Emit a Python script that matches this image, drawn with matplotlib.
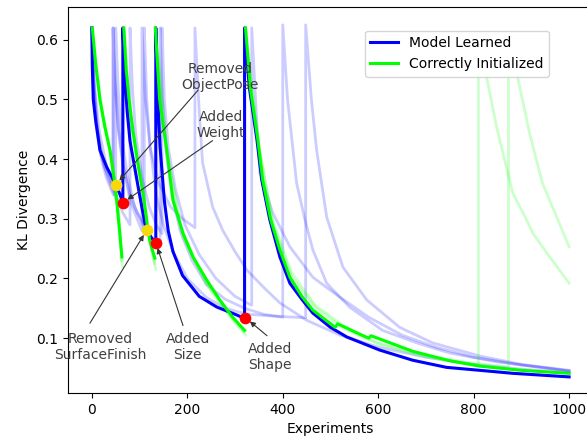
import numpy as np
import matplotlib
matplotlib.use('Agg')
import matplotlib.pyplot as plt

nan = np.nan

# bold mean curves (x, kl)
blue_x = [0, 1, 3, 8, 17, 31, 42, 50, 57, 65,
          65, 69, 74, 80, 90, 100, 111, 115, 125, 134,
          134, 138, 143, 152, 160, 170, 190, 225, 262, 300, 320,
          320, 330, 346, 356, 373, 394, 415, 440, 463, 500, 534, 603, 672, 743, 813, 882, 1000]
blue_y = [0.62, 0.555, 0.50, 0.465, 0.415, 0.387, 0.37, 0.357, 0.345, 0.327,
          0.62, 0.54, 0.48, 0.43, 0.385, 0.34, 0.293, 0.281, 0.268, 0.26,
          0.62, 0.50, 0.42, 0.33, 0.28, 0.245, 0.205, 0.17, 0.152, 0.14, 0.133,
          0.62, 0.52, 0.432, 0.365, 0.298, 0.236, 0.192, 0.165, 0.142, 0.118, 0.102, 0.080, 0.063, 0.051, 0.046, 0.041, 0.035]

green_x = [1, 8, 17, 27, 38, 46, 52, 58, 63, nan,
           67, 72, 78, 86, 95, 108, 116, 121, 126, 132, nan,
           133, 142, 157, 170, 191, 212, 241, 268, 295, 320, nan,
           322, 332, 348, 358, 375, 394, 415, 440, 463, 510, 515, 560, 580, 585, 672, 750, 813, 900, 1000]
green_y = [0.62, 0.56, 0.50, 0.455, 0.415, 0.37, 0.33, 0.28, 0.236, nan,
           0.62, 0.55, 0.50, 0.449, 0.40, 0.34, 0.29, 0.265, 0.25, 0.234, nan,
           0.62, 0.50, 0.415, 0.331, 0.276, 0.236, 0.197, 0.164, 0.135, 0.113, nan,
           0.62, 0.52, 0.432, 0.365, 0.298, 0.248, 0.202, 0.17, 0.147, 0.118, 0.124, 0.107, 0.100, 0.104, 0.078, 0.062, 0.053, 0.046, 0.041]

# individual runs, model learned
runs_blue = [
    ([0, 4, 10, 20, 30, 45, 45, 49, 56, 66, 80, 95, 105, 105, 112, 122, 140, 165, 190, 216,
      216, 225, 232, 253, 274, 300, 325, 360, 394, 450, 520, 600, 700, 800, 900, 1000],
     [0.62, 0.53, 0.46, 0.40, 0.37, 0.34, 0.62, 0.53, 0.45, 0.39, 0.33, 0.30, 0.28, 0.62, 0.50, 0.42, 0.36, 0.32, 0.30, 0.285,
      0.62, 0.48, 0.394, 0.32, 0.281, 0.245, 0.214, 0.185, 0.159, 0.13, 0.105, 0.085, 0.068, 0.056, 0.048, 0.042]),
    ([0, 5, 12, 25, 38, 50, 50, 55, 62, 75, 90, 110, 125, 143, 143, 148, 156, 168, 185, 210, 240, 280, 320, 360, 400,
      400, 410, 429, 446, 463, 492, 540, 609, 681, 750, 850, 1000],
     [0.62, 0.52, 0.45, 0.39, 0.36, 0.335, 0.62, 0.52, 0.44, 0.37, 0.32, 0.285, 0.27, 0.255, 0.62, 0.50, 0.41, 0.34, 0.28, 0.23, 0.19, 0.165, 0.15, 0.14, 0.135,
      0.625, 0.50, 0.36, 0.30, 0.248, 0.192, 0.152, 0.113, 0.092, 0.075, 0.06, 0.045]),
    ([0, 6, 15, 30, 50, 65, 80, 80, 85, 92, 105, 120, 135, 147, 147, 152, 160, 175, 195, 225, 260, 300, 335,
      335, 343, 352, 379, 415, 463, 519, 580, 650, 720, 800, 900, 1000],
     [0.62, 0.52, 0.45, 0.39, 0.34, 0.31, 0.29, 0.62, 0.52, 0.44, 0.37, 0.32, 0.29, 0.275, 0.62, 0.50, 0.42, 0.35, 0.29, 0.24, 0.20, 0.17, 0.155,
      0.62, 0.50, 0.377, 0.31, 0.253, 0.202, 0.169, 0.135, 0.105, 0.085, 0.068, 0.055, 0.045]),
    ([0, 3, 8, 18, 30, 44, 44, 48, 55, 65, 80, 95, 110, 110, 115, 122, 135, 150, 170, 200, 240, 280, 325, 380, 448,
      448, 460, 471, 492, 526, 576, 645, 714, 813, 900, 1000],
     [0.62, 0.53, 0.46, 0.41, 0.38, 0.355, 0.62, 0.53, 0.45, 0.39, 0.34, 0.31, 0.29, 0.62, 0.50, 0.42, 0.34, 0.29, 0.245, 0.20, 0.168, 0.15, 0.14, 0.137, 0.134,
      0.625, 0.50, 0.415, 0.303, 0.219, 0.164, 0.118, 0.092, 0.070, 0.056, 0.046]),
]

# individual runs, correctly initialized
runs_green = [
    ([2, 10, 20, 32, 44, 54, 60, 64, nan, 68, 80, 95, 110, 122, 134, nan, 135, 158, 190, 240, 290, 322, nan,
      323, 350, 380, 420, 470, 530, 600, 700, 810, 810, nan, 827, 848, 882, 911, 924, 953, 1000],
     [0.61, 0.55, 0.49, 0.44, 0.39, 0.33, 0.27, 0.22, nan, 0.61, 0.47, 0.40, 0.33, 0.26, 0.215, nan, 0.61, 0.41, 0.27, 0.19, 0.135, 0.105, nan,
      0.61, 0.42, 0.29, 0.20, 0.15, 0.115, 0.09, 0.068, 0.055, 0.538, nan, 0.538, 0.454, 0.343, 0.298, 0.276, 0.243, 0.192]),
    ([1, 9, 19, 30, 42, 52, 58, 62, nan, 67, 78, 92, 108, 120, 132, nan, 134, 155, 188, 238, 288, 320, nan,
      322, 348, 378, 418, 468, 528, 600, 700, 800, 873, 873, nan, 892, 917, 944, 974, 1000],
     [0.61, 0.55, 0.49, 0.44, 0.40, 0.34, 0.29, 0.23, nan, 0.61, 0.48, 0.41, 0.34, 0.27, 0.225, nan, 0.61, 0.42, 0.28, 0.195, 0.14, 0.11, nan,
      0.61, 0.43, 0.30, 0.21, 0.155, 0.12, 0.092, 0.07, 0.058, 0.052, 0.538, nan, 0.538, 0.444, 0.36, 0.303, 0.253]),
]

added_x = [65, 134, 320]
added_y = [0.327, 0.26, 0.134]
removed_x = [50, 115]
removed_y = [0.357, 0.281]

fig = plt.figure(figsize=(5.87, 4.40), dpi=100)
ax = fig.add_axes([0.1158, 0.1068, 0.8944, 0.8773])

for rx, ry in runs_blue:
    ax.plot(rx, ry, color='blue', alpha=0.2, lw=2)
for rx, ry in runs_green:
    ax.plot(rx, ry, color='lime', alpha=0.2, lw=2)

ax.plot(blue_x, blue_y, color='blue', lw=2.2, label='Model Learned')
ax.plot(green_x, green_y, color='lime', lw=2.2, label='Correctly Initialized')

ax.scatter(removed_x, removed_y, color='#f5d90a', s=55, zorder=5)
ax.scatter(added_x, added_y, color='red', s=55, zorder=5)

notes = [
    ('Removed\nObjectPose', (268, 0.538), (223, 0.516), (50, 0.357)),
    ('Added\nWeight', (270, 0.457), (253, 0.431), (65, 0.327)),
    ('Removed\nSurfaceFinish', (17, 0.085), (-4, 0.125), (115, 0.281)),
    ('Added\nSize', (201, 0.085), (191, 0.121), (134, 0.26)),
    ('Added\nShape', (373, 0.068), (367, 0.104), (322, 0.134)),
]
for txt, tpos, tail, head in notes:
    ax.text(tpos[0], tpos[1], txt, ha='center', va='center', color='0.25', fontsize=10)
    ax.annotate('', xy=head, xytext=tail,
                arrowprops=dict(arrowstyle='-|>', color='0.2', lw=0.8, mutation_scale=8,
                                shrinkA=0, shrinkB=4))

ax.set_xlim(-50, 1050)
ax.set_ylim(0.008, 0.655)
ax.set_xticks([0, 200, 400, 600, 800, 1000])
ax.set_yticks([0.1, 0.2, 0.3, 0.4, 0.5, 0.6])
ax.set_xlabel('Experiments')
ax.set_ylabel('KL Divergence')
ax.legend(loc='upper left', bbox_to_anchor=(0.552, 0.957), fontsize=10)

fig.savefig('out.png', dpi=100)
